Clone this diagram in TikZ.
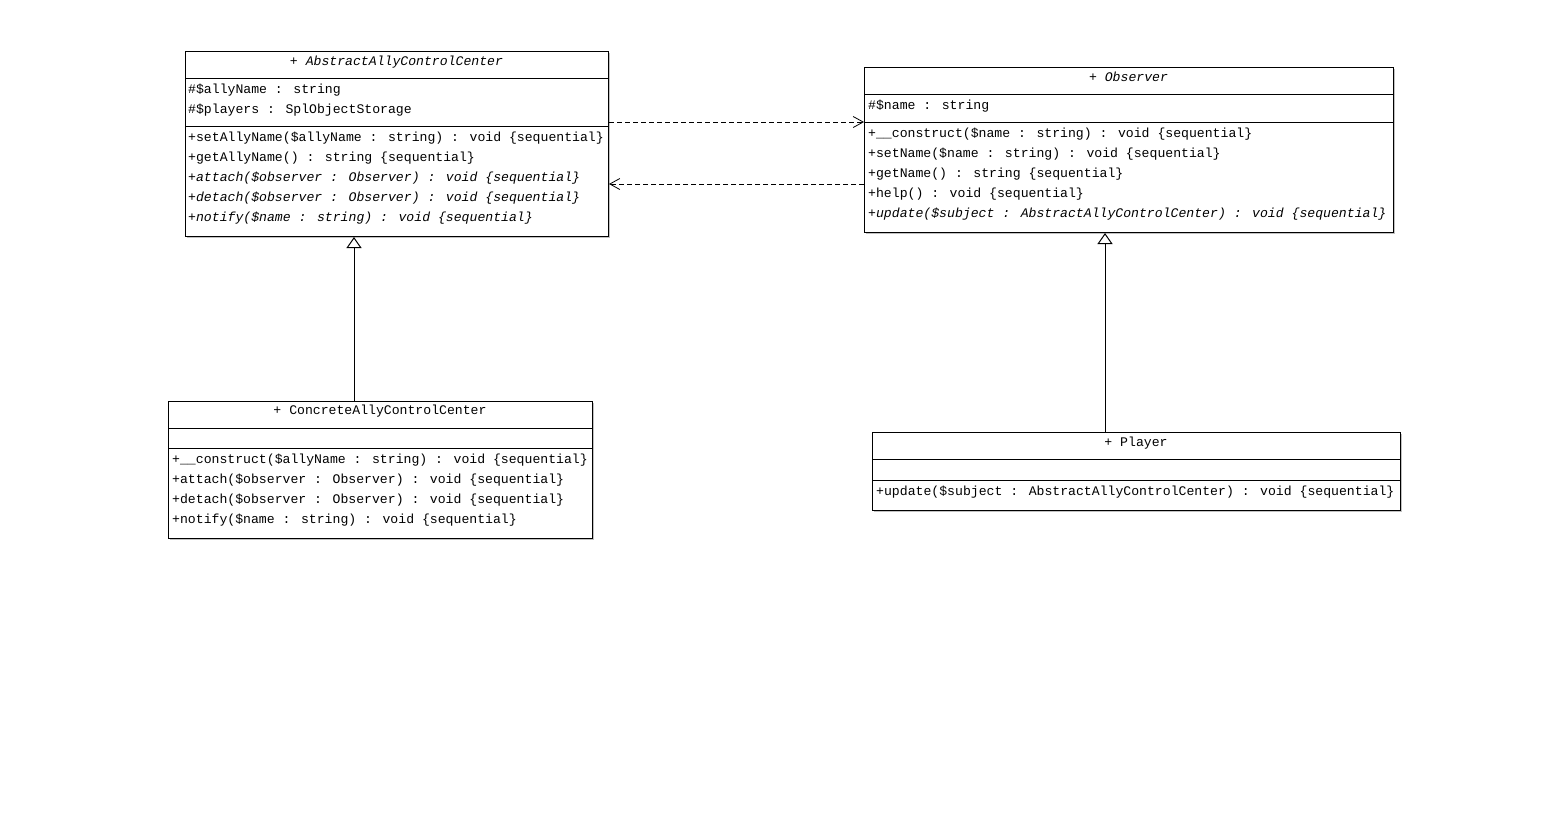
\documentclass[tikz,border=0pt]{standalone}
\usepackage{fontspec}
\setmainfont{Liberation Mono}
\usetikzlibrary{arrows.meta,shadows}
\begin{document}
\begin{tikzpicture}[x=1pt,y=-1pt,
 font=\fontsize{13.15}{16}\selectfont,
 box/.style={draw=black, line width=1pt, fill=white, anchor=north west, inner sep=0pt,
   drop shadow={shadow xshift=1.5pt, shadow yshift=-1.5pt, fill=black!40, opacity=0.6}},
 sep/.style={line width=1pt},
 txt/.style={anchor=west, inner sep=0pt, text height=9pt, text depth=3pt},
 ttl/.style={anchor=center, inner sep=0pt, text height=9pt, text depth=3pt},
 dep/.style={line width=0.8pt, dash pattern=on 5pt off 3pt,
   -{Straight Barb[length=10pt,width=11pt,line width=0.8pt]}},
 gen/.style={line width=1pt, -{Triangle[open,length=11pt,width=15pt,fill=white,line width=1pt]}}
]
\fill[white] (0,0) rectangle (1568,823);
\useasboundingbox (0,0) rectangle (1568,823);

% AbstractAllyControlCenter
\node[box, minimum width=423pt, minimum height=185pt] (abs) at (185,51) {};
\draw[sep] (185,78) -- (608,78);
\draw[sep] (185,126) -- (608,126);
\node[ttl] (absT) at (396.5,62) {\itshape + AbstractAllyControlCenter};
\node[txt] (absA1) at (188,90) {\#\$allyName : string};
\node[txt] (absA2) at (188,110) {\#\$players : SplObjectStorage};
\node[txt] (absM1) at (188,138) {+setAllyName(\$allyName : string) : void \{sequential\}};
\node[txt] (absM2) at (188,158) {+getAllyName() : string \{sequential\}};
\node[txt] (absM3) at (188,178) {\itshape +attach(\$observer : Observer) : void \{sequential\}};
\node[txt] (absM4) at (188,198) {\itshape +detach(\$observer : Observer) : void \{sequential\}};
\node[txt] (absM5) at (188,218) {\itshape +notify(\$name : string) : void \{sequential\}};

% Observer
\node[box, minimum width=529pt, minimum height=165pt] (obs) at (864,67) {};
\draw[sep] (864,94) -- (1393,94);
\draw[sep] (864,122) -- (1393,122);
\node[ttl] (obsT) at (1128.5,78) {\itshape + Observer};
\node[txt] (obsA1) at (868,106) {\#\$name : string};
\node[txt] (obsM1) at (868,134) {+\_\_construct(\$name : string) : void \{sequential\}};
\node[txt] (obsM2) at (868,154) {+setName(\$name : string) : void \{sequential\}};
\node[txt] (obsM3) at (868,174) {+getName() : string \{sequential\}};
\node[txt] (obsM4) at (868,194) {+help() : void \{sequential\}};
\node[txt] (obsM5) at (868,214) {\itshape +update(\$subject : AbstractAllyControlCenter) : void \{sequential\}};

% ConcreteAllyControlCenter
\node[box, minimum width=424pt, minimum height=137pt] (con) at (168,401) {};
\draw[sep] (168,428) -- (592,428);
\draw[sep] (168,448) -- (592,448);
\node[ttl] (conT) at (380,411) {+ ConcreteAllyControlCenter};
\node[txt] (conM1) at (172,460) {+\_\_construct(\$allyName : string) : void \{sequential\}};
\node[txt] (conM2) at (172,480) {+attach(\$observer : Observer) : void \{sequential\}};
\node[txt] (conM3) at (172,500) {+detach(\$observer : Observer) : void \{sequential\}};
\node[txt] (conM4) at (172,520) {+notify(\$name : string) : void \{sequential\}};

% Player
\node[box, minimum width=528pt, minimum height=78pt] (ply) at (872,432) {};
\draw[sep] (872,459) -- (1400,459);
\draw[sep] (872,480) -- (1400,480);
\node[ttl] (plyT) at (1136,443) {+ Player};
\node[txt] (plyM1) at (876,492) {+update(\$subject : AbstractAllyControlCenter) : void \{sequential\}};

% connectors
\coordinate (d1) at (0,122);
\coordinate (d2) at (0,184);
\coordinate (g1) at (354,0);
\coordinate (g2) at (1105,0);
\draw[dep] (abs.east |- d1) -- (obs.west |- d1);
\draw[dep] (obs.west |- d2) -- (abs.east |- d2);
\draw[gen] (con.north -| g1) -- (abs.south -| g1);
\draw[gen] (ply.north -| g2) -- (obs.south -| g2);
\end{tikzpicture}
\end{document}
